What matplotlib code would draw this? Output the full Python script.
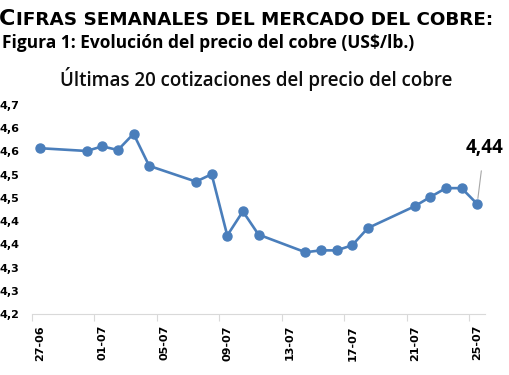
import numpy as np
import matplotlib
matplotlib.use('Agg')
import matplotlib.pyplot as plt
import matplotlib.dates as mdates
from matplotlib.ticker import FixedLocator, FuncFormatter

# cotizaciones del cobre (US$/lb)
fechas = ['2025-06-27', '2025-06-30', '2025-07-01', '2025-07-02', '2025-07-03',
          '2025-07-04', '2025-07-07', '2025-07-08', '2025-07-09', '2025-07-10',
          '2025-07-11', '2025-07-14', '2025-07-15', '2025-07-16', '2025-07-17',
          '2025-07-18', '2025-07-21', '2025-07-22', '2025-07-23', '2025-07-24',
          '2025-07-25']
precios = [4.557, 4.551, 4.561, 4.553, 4.588, 4.519, 4.485, 4.501, 4.369, 4.421,
           4.371, 4.333, 4.337, 4.337, 4.348, 4.385, 4.432, 4.452, 4.471, 4.471,
           4.437]
y_ticks = [4.20, 4.25, 4.30, 4.35, 4.40, 4.45, 4.50, 4.55, 4.60, 4.65]
etiqueta_ultimo = '4,44'

x = mdates.date2num(np.array(fechas, dtype='datetime64[D]'))
azul = '#4A7EBB'
gris = '#D9D9D9'

fig = plt.figure(figsize=(5.1, 3.75), dpi=100)
ax = fig.add_axes([32/510, 1-314/375, (485-32)/510, (314-105)/375])

ax.plot(x, precios, color=azul, lw=1.9, marker='o', ms=6.5, mec=azul, mfc=azul)

ax.set_xlim(x[0]-0.5, x[-1]+0.5)
ax.set_ylim(4.2, 4.65)

# etiquetas de fecha cada 4 dias, marcas entre categorias
lab_pos = np.arange(x[0], x[-1]+0.1, 4)
ax.xaxis.set_major_locator(FixedLocator(lab_pos))
ax.xaxis.set_major_formatter(mdates.DateFormatter('%d-%m'))
ax.xaxis.set_minor_locator(FixedLocator(lab_pos-0.5))
ax.tick_params(axis='x', which='major', length=0, pad=8, labelrotation=90,
               labelsize=8)
ax.tick_params(axis='x', which='minor', length=5, color=gris, width=0.8)
for t in ax.get_xticklabels():
    t.set_fontweight('bold')

ax.yaxis.set_major_locator(FixedLocator(y_ticks))
ax.yaxis.set_major_formatter(FuncFormatter(
    lambda v, p: ('%.1f' % (np.floor(v*10+0.5+1e-9)/10)).replace('.', ',')))
ax.tick_params(axis='y', length=0, pad=9, labelsize=8)
for t in ax.get_yticklabels():
    t.set_fontweight('bold')

for s in ['top', 'right', 'left']:
    ax.spines[s].set_visible(False)
ax.spines['bottom'].set_color(gris)
ax.spines['bottom'].set_linewidth(0.8)

ax.annotate(etiqueta_ultimo, xy=(x[-1], precios[-1]), xytext=(5, 40),
            textcoords='offset points', ha='center', va='center',
            fontsize=13.5, fontweight='bold', family='Open Sans',
            arrowprops=dict(arrowstyle='-', color='#A6A6A6', lw=0.8,
                            shrinkA=7, shrinkB=4))

fig.text(256/510, 1-79/375, 'Últimas 20 cotizaciones del precio del cobre',
         ha='center', va='center', fontsize=13.5, family='Open Sans',
         fontweight='semibold', color='#0D0D0D')

# encabezados
fig.text(-1/510, 1-25/375, 'C', ha='left', va='baseline', fontsize=16,
         fontweight='bold', family='DejaVu Sans')
fig.text(16/510, 1-25/375, 'IFRAS SEMANALES DEL MERCADO DEL COBRE:',
         ha='left', va='baseline', fontsize=13.2, fontweight='bold',
         family='DejaVu Sans')
fig.text(414/510, 1-48/375, 'Figura 1: Evolución del precio del cobre (US$/lb.)',
         ha='right', va='baseline', fontsize=12.5, fontweight='bold',
         family='Open Sans')

fig.savefig('out.png', dpi=100)
